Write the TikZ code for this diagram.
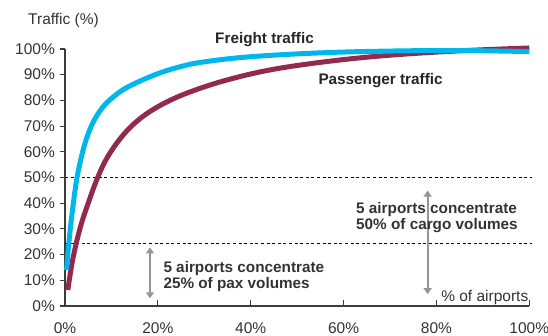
\documentclass[tikz,border=0pt]{standalone}
\usepackage{fontspec}
\setmainfont{Liberation Sans}
\usetikzlibrary{arrows.meta}
\definecolor{freight}{RGB}{0,183,235}
\definecolor{pax}{RGB}{146,42,80}
\definecolor{axisgray}{RGB}{60,60,60}
\definecolor{txt}{RGB}{51,51,51}
\definecolor{arrgray}{RGB}{150,150,150}
\begin{document}
\begin{tikzpicture}[x=1pt,y=-1pt,
  font=\fontsize{15.5}{17}\selectfont, text=txt,
  lbl/.style={inner sep=0pt},
  boldlbl/.style={inner sep=0pt, font=\fontsize{15.3}{17}\selectfont\bfseries, text=black!85},
  note/.style={inner sep=0pt, align=left, font=\fontsize{15.3}{16}\selectfont\bfseries, text=black!80},
  axisline/.style={draw=axisgray, line width=1.3pt},
  ticks/.style={draw=axisgray, line width=1.1pt},
  curve/.style={line width=5pt, smooth, tension=0.6},
  refline/.style={draw=black, line width=0.8pt, dash pattern=on 3pt off 2.6pt},
  span/.style={draw=arrgray, line width=2pt, {Triangle[width=8pt,length=6pt]}-{Triangle[width=8pt,length=6pt]}}
]
\useasboundingbox (0,0) rectangle (548,336);

% axes
\coordinate (ytop) at (65,49);
\coordinate (org) at (65,306);
\coordinate (xend) at (529.3,306);
\draw[axisline] (ytop) -- (org) -- (xend);
\foreach \v in {0,10,...,100}{
  \coordinate (yt\v) at (65,306-2.57*\v);
  \draw[ticks] (yt\v) -- ++(-5.5,0);
  \node[lbl, anchor=base east] (yl\v) at (55,306-2.57*\v+5.3) {\v\%};
}
\foreach \v in {0,20,...,100}{
  \coordinate (xt\v) at (65+4.643*\v,306);
  \ifnum\v>0 \draw[ticks] (xt\v) -- ++(0,-6); \fi
  \node[lbl, anchor=base] (xl\v) at (65+4.643*\v,333.5) {\v\%};
}

\node[lbl, anchor=base west] (ytitle) at (28,25) {Traffic (\%)};
\node[lbl, anchor=base east] (xtitle) at (528.5,301.5) {\% of airports};

\begin{scope}[shift={(65,306)}, x=4.643pt, y=2.57pt]
  % reference lines
  \coordinate (h50a) at (0,50);   \coordinate (h50b) at (100.6,50);
  \coordinate (h25a) at (0,24.4); \coordinate (h25b) at (100.6,24.4);
  \draw[refline] (h50a) -- (h50b);
  \draw[refline] (h25a) -- (h25b);
  % curves
  \draw[curve, draw=pax] plot coordinates {(0.6,6.2) (1.0,11) (1.6,17.5) (2.5,25) (3.6,32.5) (5,40) (6.7,48.5) (8.7,56.5) (11.2,63.5) (14.2,69.8) (17.9,75.2) (22.6,80) (28,84) (35,88) (44,91.8) (55,94.8) (68,97.3) (84,99.2) (100,100.4)};
  \draw[curve, draw=freight] plot coordinates {(0.35,14) (0.7,22) (1.2,31) (1.8,40) (2.5,49) (3.4,57) (4.6,65) (6.2,72) (8.2,77.5) (10.5,81.5) (13.6,85.3) (19.4,90) (24.8,93.1) (30,95) (40,97) (55,98.5) (70,99.2) (85,99.4) (100,99)};
  % span arrows
  \coordinate (paxtop) at (18.3,22.8);  \coordinate (paxbot) at (18.3,3.0);
  \coordinate (cgotop) at (78.1,44.9);  \coordinate (cgobot) at (78.1,4.6);
  \draw[span] (paxbot) -- (paxtop);
  \draw[span] (cgobot) -- (cgotop);
\end{scope}

\node[boldlbl, anchor=base west] (freightlbl) at (215,43.3) {Freight traffic};
\node[boldlbl, anchor=base west] (paxlbl) at (318.3,85) {Passenger traffic};
\node[note, anchor=north west] (paxnote) at (163.3,261.5) {5 airports concentrate\\25\% of pax volumes};
\node[note, anchor=north west] (cgonote) at (356,202.5) {5 airports concentrate\\50\% of cargo volumes};
\end{tikzpicture}
\end{document}
